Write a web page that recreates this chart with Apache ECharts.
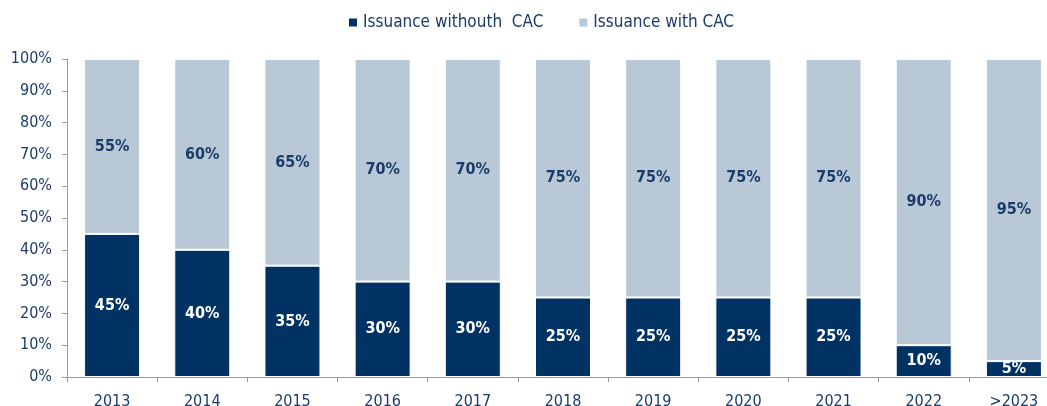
<!DOCTYPE html>
<html>
<head>
<meta charset="utf-8">
<style>
  html, body { margin: 0; padding: 0; background: #ffffff; }
  #chart { width: 1047px; height: 406px; }
</style>
<script src="https://cdn.jsdelivr.net/npm/echarts@6/dist/echarts.min.js"></script>
</head>
<body>
<div id="chart"></div>
<script>
  // Share of issuance by year, with and without collective action clauses
  const categories = ['2013', '2014', '2015', '2016', '2017', '2018', '2019', '2020', '2021', '2022', '>2023'];
  const withoutCAC = [45, 40, 35, 30, 30, 25, 25, 25, 25, 10, 5];
  const withCAC = [55, 60, 65, 70, 70, 75, 75, 75, 75, 90, 95];
  const yTicks = [0, 10, 20, 30, 40, 50, 60, 70, 80, 90, 100];

  const navy = '#003263';
  const steel = '#b8c8d7';
  const textColor = '#1b3c6a';
  const font = '"DejaVu Sans Condensed", "DejaVu Sans", sans-serif';

  const chart = echarts.init(document.getElementById('chart'));
  chart.setOption({
    animation: false,
    textStyle: { fontFamily: font },
    legend: {
      top: 9,
      left: 342,
      itemWidth: 10,
      itemHeight: 10,
      itemGap: 34,
      icon: 'rect',
      textStyle: { color: textColor, fontSize: 17, fontFamily: font },
      data: ['Issuance withouth  CAC', 'Issuance with CAC']
    },
    // the last category runs a little past the right edge of the canvas
    grid: {
      left: 67, top: 59, width: 992, height: 318,
      containLabel: false,
      outerBoundsMode: 'none'
    },
    xAxis: {
      type: 'category',
      data: categories,
      axisLine: { lineStyle: { color: '#9a9a9a', width: 1 } },
      axisTick: { show: true, length: 5, lineStyle: { color: '#9a9a9a' } },
      axisLabel: { color: textColor, fontSize: 16, margin: 17, fontFamily: font }
    },
    yAxis: {
      type: 'value',
      min: 0,
      max: 100,
      interval: 10,
      splitLine: { show: false },
      axisLine: { show: true, lineStyle: { color: '#9a9a9a', width: 1 } },
      axisTick: { show: true, length: 5, lineStyle: { color: '#9a9a9a' } },
      axisLabel: {
        color: textColor,
        fontSize: 16,
        margin: 15,
        fontFamily: font,
        formatter: v => (yTicks.includes(v) ? v + '%' : '')
      }
    },
    series: [
      {
        name: 'Issuance withouth  CAC',
        type: 'bar',
        stack: 'total',
        barWidth: 56,
        data: withoutCAC,
        itemStyle: { color: navy, borderColor: '#ffffff', borderWidth: 1 },
        label: {
          show: true,
          position: 'inside',
          color: '#ffffff',
          fontWeight: 'bold',
          fontSize: 16,
          fontFamily: font,
          formatter: p => p.value + '%'
        }
      },
      {
        name: 'Issuance with CAC',
        type: 'bar',
        stack: 'total',
        barWidth: 56,
        data: withCAC,
        itemStyle: { color: steel, borderColor: '#ffffff', borderWidth: 1 },
        label: {
          show: true,
          position: 'inside',
          color: textColor,
          fontWeight: 'bold',
          fontSize: 16,
          fontFamily: font,
          formatter: p => p.value + '%'
        }
      }
    ]
  });
</script>
</body>
</html>
